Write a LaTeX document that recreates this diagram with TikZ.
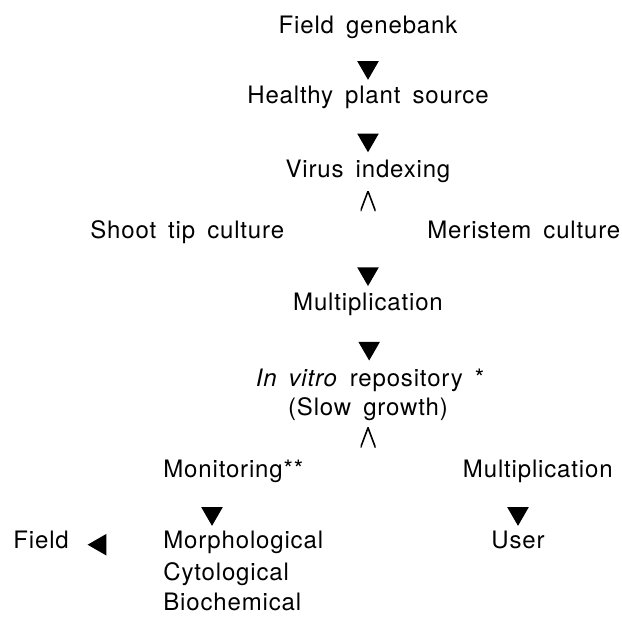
\documentclass[tikz,border=0pt]{standalone}
\usepackage{fontspec}
\setmainfont[WordSpace=1.6, LetterSpace=3.5]{TeX Gyre Heros}
\usetikzlibrary{positioning,shapes.geometric,calc}

\begin{document}
\begin{tikzpicture}[
  x=0.5pt, y=-0.5pt,
  every node/.style={font=\fontsize{12}{14.5}\selectfont, inner sep=0pt},
  txt/.style={anchor=base, text height=8.8pt, text depth=2.5pt},
  tri/.style={fill, regular polygon, regular polygon sides=3, minimum size=12.5pt, inner sep=0pt, pos=.62},
  down/.style={tri, shape border rotate=180},
  back/.style={tri, shape border rotate=90},
  fork/.style={minimum width=7.5pt, minimum height=10pt,
    path picture={\draw[line width=.8pt] (path picture bounding box.south west)
      -- (path picture bounding box.north) -- (path picture bounding box.south east);}}
]
\useasboundingbox (0,0) rectangle (622,617);

\node[txt] (fg) at (368,33) {Field genebank};
\node[txt] (hps) at (368,103) {Healthy plant source};
\node[txt] (vi) at (368,177) {Virus indexing};
\node[txt, anchor=base west] (shoot) at (90,238) {Shoot tip culture};
\node[txt, anchor=base west] (meri) at (427,238) {Meristem culture};
\node[txt] (mult) at (368,310) {Multiplication};
\node[txt] (repo) at (370,386) {\textit{In vitro} repository *};
\node[txt] (slow) at (368,415) {(Slow growth)};
\node[txt, anchor=base west] (mon) at (163,477) {Monitoring**};
\node[txt, anchor=base east] (multr) at (613,477) {Multiplication};
\node[txt, anchor=base west] (field) at (13,548) {Field};
\node[txt, anchor=base west] (morph) at (163,548) {Morphological};
\node[txt, anchor=base west] (cyto) at (163,580) {Cytological};
\node[txt, anchor=base west] (bioch) at (163,610) {Biochemical};
\node[txt] (user) at (518,548) {User};

% triangles between the steps
\path (fg) -- node[down] {} (hps);
\path (hps) -- node[down] {} (vi);
\path (vi) -- node[fork, pos=.5] {} (vi |- shoot.north);
\path (mult |- shoot.south) -- node[down] {} (mult);
\path (mult) -- node[down] {} (repo);
\path (slow) -- node[fork, pos=.45] {} (slow |- mon.north);
\path ([xshift=24.5pt]mon.south west) -- node[down, pos=.65] {} ([xshift=24.5pt]morph.north west);
\path (user |- multr.south) -- node[down, pos=.65] {} (user);
\path (morph) -- node[back, pos=.67, yshift=-1.5pt] {} (field);

\end{tikzpicture}
\end{document}
